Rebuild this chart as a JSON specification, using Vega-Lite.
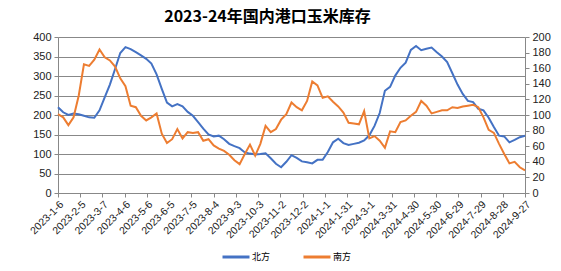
{
 "$schema": "https://vega.github.io/schema/vega-lite/v6.json",
 "width": 467, "height": 156,
 "autosize": "none",
 "padding": {"left": 58, "top": 37, "right": 36, "bottom": 78},
 "background": "white",
 "title": {"text": "2023-24年国内港口玉米库存", "fontSize": 16, "font": "Noto Sans CJK SC", "fontWeight": "bold", "color": "#000", "anchor": "middle", "frame": "group", "dx": -24, "offset": 6},
 "data": {"values": [
  {"date":"2023-01-06","北方":220,"南方":101},
  {"date":"2023-01-13","北方":207,"南方":97},
  {"date":"2023-01-20","北方":200,"南方":87},
  {"date":"2023-01-27","北方":204,"南方":97},
  {"date":"2023-02-03","北方":202,"南方":125},
  {"date":"2023-02-10","北方":198,"南方":165},
  {"date":"2023-02-17","北方":194,"南方":163},
  {"date":"2023-02-24","北方":193,"南方":171},
  {"date":"2023-03-03","北方":212,"南方":184},
  {"date":"2023-03-10","北方":245,"南方":174},
  {"date":"2023-03-17","北方":278,"南方":170},
  {"date":"2023-03-24","北方":318,"南方":162},
  {"date":"2023-03-31","北方":359,"南方":147},
  {"date":"2023-04-07","北方":374,"南方":137},
  {"date":"2023-04-14","北方":369,"南方":112},
  {"date":"2023-04-21","北方":361,"南方":110},
  {"date":"2023-04-28","北方":353,"南方":99},
  {"date":"2023-05-05","北方":344,"南方":93},
  {"date":"2023-05-12","北方":332,"南方":97},
  {"date":"2023-05-19","北方":304,"南方":102},
  {"date":"2023-05-26","北方":267,"南方":76},
  {"date":"2023-06-02","北方":232,"南方":64},
  {"date":"2023-06-09","北方":222,"南方":69},
  {"date":"2023-06-16","北方":228,"南方":82},
  {"date":"2023-06-23","北方":222,"南方":70},
  {"date":"2023-06-30","北方":208,"南方":78},
  {"date":"2023-07-07","北方":198,"南方":77},
  {"date":"2023-07-14","北方":182,"南方":78},
  {"date":"2023-07-21","北方":165,"南方":67},
  {"date":"2023-07-28","北方":150,"南方":69},
  {"date":"2023-08-04","北方":145,"南方":61},
  {"date":"2023-08-11","北方":147,"南方":57},
  {"date":"2023-08-18","北方":138,"南方":54},
  {"date":"2023-08-25","北方":126,"南方":49},
  {"date":"2023-09-01","北方":120,"南方":42},
  {"date":"2023-09-08","北方":115,"南方":37},
  {"date":"2023-09-15","北方":104,"南方":50},
  {"date":"2023-09-22","北方":101,"南方":62},
  {"date":"2023-09-29","北方":99,"南方":48},
  {"date":"2023-10-06","北方":100,"南方":63},
  {"date":"2023-10-13","北方":102,"南方":86},
  {"date":"2023-10-20","北方":89,"南方":78},
  {"date":"2023-10-27","北方":75,"南方":82},
  {"date":"2023-11-03","北方":66,"南方":94},
  {"date":"2023-11-10","北方":80,"南方":101},
  {"date":"2023-11-17","北方":97,"南方":116},
  {"date":"2023-11-24","北方":90,"南方":110},
  {"date":"2023-12-01","北方":81,"南方":106},
  {"date":"2023-12-08","北方":79,"南方":118},
  {"date":"2023-12-15","北方":76,"南方":143},
  {"date":"2023-12-22","北方":85,"南方":138},
  {"date":"2023-12-29","北方":85,"南方":122},
  {"date":"2024-01-05","北方":105,"南方":124},
  {"date":"2024-01-12","北方":130,"南方":117},
  {"date":"2024-01-19","北方":139,"南方":111},
  {"date":"2024-01-26","北方":128,"南方":103},
  {"date":"2024-02-02","北方":123,"南方":90},
  {"date":"2024-02-09","北方":126,"南方":89},
  {"date":"2024-02-16","北方":129,"南方":88},
  {"date":"2024-02-23","北方":135,"南方":105},
  {"date":"2024-03-01","北方":148,"南方":70},
  {"date":"2024-03-08","北方":172,"南方":73},
  {"date":"2024-03-15","北方":205,"南方":67},
  {"date":"2024-03-22","北方":262,"南方":58},
  {"date":"2024-03-29","北方":272,"南方":79},
  {"date":"2024-04-05","北方":301,"南方":78},
  {"date":"2024-04-12","北方":321,"南方":91},
  {"date":"2024-04-19","北方":334,"南方":93},
  {"date":"2024-04-26","北方":367,"南方":99},
  {"date":"2024-05-03","北方":377,"南方":104},
  {"date":"2024-05-10","北方":366,"南方":118},
  {"date":"2024-05-17","北方":370,"南方":112},
  {"date":"2024-05-24","北方":373,"南方":102},
  {"date":"2024-05-31","北方":361,"南方":104},
  {"date":"2024-06-07","北方":350,"南方":106},
  {"date":"2024-06-14","北方":336,"南方":106},
  {"date":"2024-06-21","北方":307,"南方":110},
  {"date":"2024-06-28","北方":278,"南方":109},
  {"date":"2024-07-05","北方":254,"南方":111},
  {"date":"2024-07-12","北方":236,"南方":112},
  {"date":"2024-07-19","北方":233,"南方":113},
  {"date":"2024-07-26","北方":216,"南方":110},
  {"date":"2024-08-02","北方":212,"南方":97},
  {"date":"2024-08-09","北方":193,"南方":81},
  {"date":"2024-08-16","北方":169,"南方":77},
  {"date":"2024-08-23","北方":147,"南方":63},
  {"date":"2024-08-30","北方":145,"南方":50},
  {"date":"2024-09-06","北方":130,"南方":38},
  {"date":"2024-09-13","北方":136,"南方":40},
  {"date":"2024-09-20","北方":143,"南方":33},
  {"date":"2024-09-27","北方":147,"南方":29}
 ]},
 "transform": [{"fold": ["北方", "南方"], "as": ["series", "value"]}],
 "encoding": {
  "x": {"field": "date", "type": "temporal",
   "scale": {"type": "utc", "domain": [{"year":2023,"month":1,"date":6,"utc":true},{"year":2024,"month":9,"date":27,"utc":true}]},
   "axis": {"title": null, "format": "%Y-%-m-%-d", "labelAngle": -45, "labelFontSize": 10.5, "labelFont": "Liberation Sans", "labelColor": "#222", "grid": false, "domainColor": "#888", "tickColor": "#888", "tickSize": 4, "labelOverlap": false, "labelFlush": false, "labelBound": false, "labelPadding": 2,
    "values": [
     {"year":2023,"month":1,"date":6,"utc":true},
     {"year":2023,"month":2,"date":5,"utc":true},
     {"year":2023,"month":3,"date":7,"utc":true},
     {"year":2023,"month":4,"date":6,"utc":true},
     {"year":2023,"month":5,"date":6,"utc":true},
     {"year":2023,"month":6,"date":5,"utc":true},
     {"year":2023,"month":7,"date":5,"utc":true},
     {"year":2023,"month":8,"date":4,"utc":true},
     {"year":2023,"month":9,"date":3,"utc":true},
     {"year":2023,"month":10,"date":3,"utc":true},
     {"year":2023,"month":11,"date":2,"utc":true},
     {"year":2023,"month":12,"date":2,"utc":true},
     {"year":2024,"month":1,"date":1,"utc":true},
     {"year":2024,"month":1,"date":31,"utc":true},
     {"year":2024,"month":3,"date":1,"utc":true},
     {"year":2024,"month":3,"date":31,"utc":true},
     {"year":2024,"month":4,"date":30,"utc":true},
     {"year":2024,"month":5,"date":30,"utc":true},
     {"year":2024,"month":6,"date":29,"utc":true},
     {"year":2024,"month":7,"date":29,"utc":true},
     {"year":2024,"month":8,"date":28,"utc":true},
     {"year":2024,"month":9,"date":27,"utc":true}
    ]}},
  "color": {"field": "series", "type": "nominal",
   "scale": {"domain": ["北方", "南方"], "range": ["#4472C4", "#ED7D31"]},
   "legend": {"title": null, "orient": "none", "legendX": 163, "legendY": 205, "direction": "horizontal", "symbolType": "stroke", "symbolSize": 729, "symbolStrokeWidth": 3, "labelFontSize": 9, "labelFont": "Noto Sans CJK SC", "labelColor": "#000", "columnPadding": 26, "labelOffset": 1}}
 },
 "layer": [
  {"transform": [{"filter": "datum.series === '北方'"}],
   "mark": {"type": "line", "strokeWidth": 2},
   "encoding": {"y": {"field": "value", "type": "quantitative", "scale": {"domain": [0, 400], "nice": false},
    "axis": {"title": null, "orient": "left", "values": [0,50,100,150,200,250,300,350,400], "grid": true, "gridColor": "#888", "domainColor": "#888", "tickColor": "#888", "tickSize": 4, "labelFontSize": 11, "labelFont": "Liberation Sans", "labelColor": "#222", "labelPadding": 3}}}},
  {"transform": [{"filter": "datum.series === '南方'"}],
   "mark": {"type": "line", "strokeWidth": 2},
   "encoding": {"y": {"field": "value", "type": "quantitative", "scale": {"domain": [0, 200], "nice": false},
    "axis": {"title": null, "orient": "right", "values": [0,20,40,60,80,100,120,140,160,180,200], "grid": false, "domainColor": "#888", "tickColor": "#888", "tickSize": 4, "labelFontSize": 11, "labelFont": "Liberation Sans", "labelColor": "#222", "labelPadding": 3}}}}
 ],
 "resolve": {"scale": {"y": "independent"}},
 "config": {"view": {"stroke": null}}
}
